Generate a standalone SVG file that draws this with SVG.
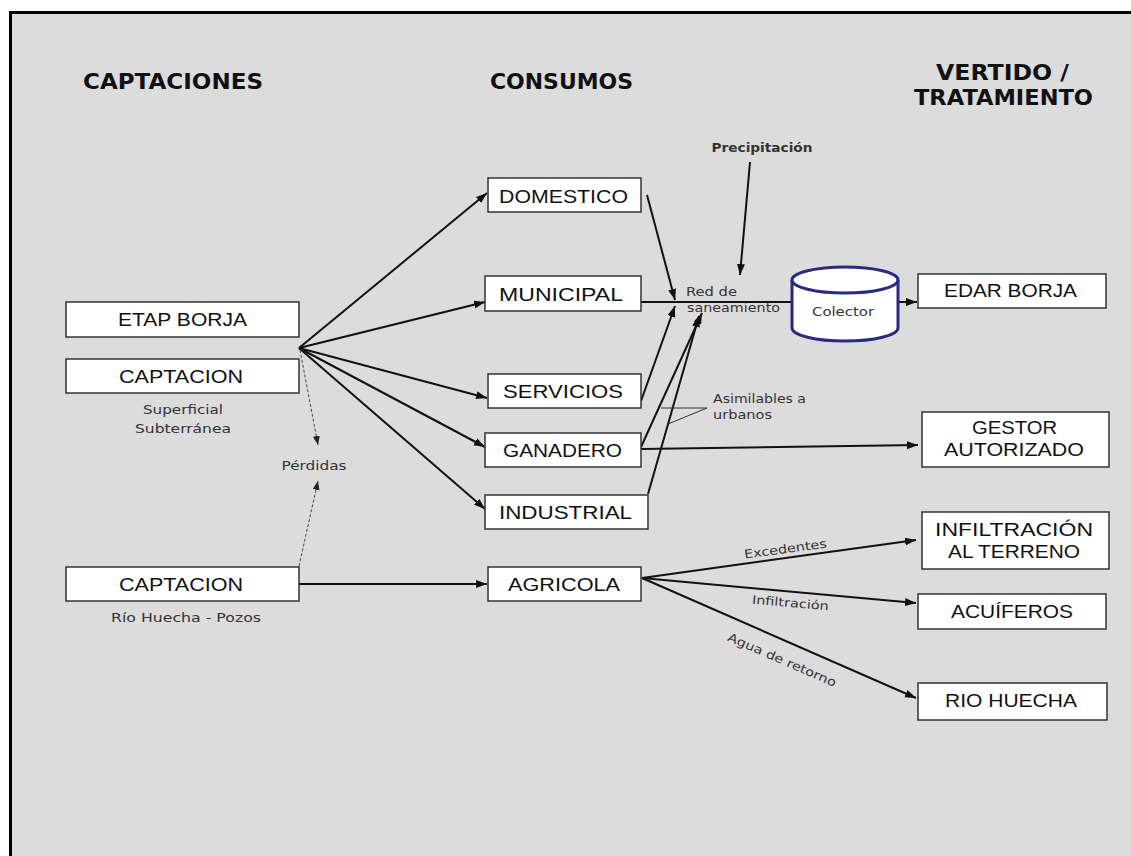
<svg xmlns="http://www.w3.org/2000/svg" width="1131" height="856" viewBox="0 0 1131 856">
<defs>
<style>
.box{fill:#fff;stroke:#333;stroke-width:1.5}
.bt{font-family:"Liberation Sans",Arial,sans-serif;font-size:19px;fill:#111;text-anchor:middle}
.hd{font-family:"DejaVu Sans",Verdana,sans-serif;font-size:21px;font-weight:bold;fill:#111}
.sm{font-family:"DejaVu Sans",Verdana,sans-serif;font-size:12px;fill:#333}
.ln{stroke:#111;stroke-width:2;fill:none}
.th{stroke:#333;stroke-width:1;fill:none}
.ds{stroke:#444;stroke-width:1;stroke-dasharray:3,2;fill:none}
</style>
<marker id="ah" markerUnits="userSpaceOnUse" markerWidth="12" markerHeight="10" refX="11" refY="4" orient="auto">
<path d="M0,0 L11,4 L0,8 Z" fill="#111"/>
</marker>
<marker id="ahs" markerUnits="userSpaceOnUse" markerWidth="10" markerHeight="8" refX="9" refY="3.5" orient="auto">
<path d="M0,0 L9,3.5 L0,7 Z" fill="#222"/>
</marker>
</defs>
<rect x="0" y="0" width="1131" height="856" fill="#fff"/>
<rect x="10.5" y="12.5" width="1130" height="860" fill="#dcdcdc" stroke="#000" stroke-width="3"/>

<g id="headers">
<text class="hd" x="83" y="89" textLength="180" lengthAdjust="spacingAndGlyphs">CAPTACIONES</text>
<text class="hd" x="490" y="89" textLength="143" lengthAdjust="spacingAndGlyphs">CONSUMOS</text>
<text class="hd" x="936" y="80" textLength="133" lengthAdjust="spacingAndGlyphs">VERTIDO /</text>
<text class="hd" x="914" y="105" textLength="179" lengthAdjust="spacingAndGlyphs">TRATAMIENTO</text>
</g>

<g id="connectors">
<line class="ln" x1="299" y1="348" x2="487" y2="193" marker-end="url(#ah)"/>
<line class="ln" x1="299" y1="348" x2="485" y2="302" marker-end="url(#ah)"/>
<line class="ln" x1="299" y1="348" x2="487" y2="398" marker-end="url(#ah)"/>
<line class="ln" x1="299" y1="348" x2="485" y2="447" marker-end="url(#ah)"/>
<line class="ln" x1="299" y1="348" x2="485" y2="509" marker-end="url(#ah)"/>
<line class="ln" x1="299" y1="584" x2="487" y2="584" marker-end="url(#ah)"/>
<line class="ds" x1="300" y1="350" x2="318" y2="445" marker-end="url(#ahs)"/>
<line class="ds" x1="299" y1="566" x2="318" y2="481" marker-end="url(#ahs)"/>
<line class="ln" x1="647" y1="195" x2="675" y2="300" marker-end="url(#ah)"/>
<line class="ln" x1="641" y1="302" x2="792" y2="302"/>
<line class="ln" x1="641" y1="401" x2="675" y2="306" marker-end="url(#ah)"/>
<line class="ln" x1="641" y1="447" x2="702" y2="313" marker-end="url(#ah)"/>
<line class="ln" x1="648" y1="494" x2="699" y2="316" marker-end="url(#ah)"/>
<line class="ln" x1="750" y1="162" x2="740" y2="275" marker-end="url(#ah)"/>
<line class="ln" x1="898" y1="302" x2="917" y2="302" marker-end="url(#ah)"/>
<line class="ln" x1="641" y1="449" x2="918" y2="445" marker-end="url(#ah)"/>
<line class="ln" x1="642" y1="578" x2="916" y2="540" marker-end="url(#ah)"/>
<line class="ln" x1="642" y1="578" x2="916" y2="603" marker-end="url(#ah)"/>
<line class="ln" x1="642" y1="578" x2="916" y2="698" marker-end="url(#ah)"/>
<line class="th" x1="707" y1="408" x2="661" y2="408"/>
<line class="th" x1="707" y1="408" x2="668" y2="424"/>
</g>

<g id="labels">
<text class="sm" x="762" y="152" text-anchor="middle" font-weight="bold" fill="#111" textLength="101" lengthAdjust="spacingAndGlyphs">Precipitación</text>
<text class="sm" x="686" y="296" textLength="51" lengthAdjust="spacingAndGlyphs">Red de</text>
<text class="sm" x="687" y="312" textLength="93" lengthAdjust="spacingAndGlyphs">saneamiento</text>
<text class="sm" x="713" y="403" textLength="93" lengthAdjust="spacingAndGlyphs">Asimilables a</text>
<text class="sm" x="713" y="419" textLength="59" lengthAdjust="spacingAndGlyphs">urbanos</text>
<text class="sm" x="183" y="414" text-anchor="middle" textLength="80" lengthAdjust="spacingAndGlyphs">Superficial</text>
<text class="sm" x="183" y="433" text-anchor="middle" textLength="96" lengthAdjust="spacingAndGlyphs">Subterránea</text>
<text class="sm" x="314" y="470" text-anchor="middle" textLength="65" lengthAdjust="spacingAndGlyphs">Pérdidas</text>
<text class="sm" x="186" y="622" text-anchor="middle" textLength="150" lengthAdjust="spacingAndGlyphs">Río Huecha - Pozos</text>
<text class="sm" x="786" y="553" text-anchor="middle" transform="rotate(-7.7 786 553)" textLength="83" lengthAdjust="spacingAndGlyphs">Excedentes</text>
<text class="sm" x="790" y="607" text-anchor="middle" transform="rotate(5 790 607)" textLength="77" lengthAdjust="spacingAndGlyphs">Infiltración</text>
<text class="sm" x="782" y="664" text-anchor="middle" transform="rotate(23.5 782 660)" textLength="117" lengthAdjust="spacingAndGlyphs">Agua de retorno</text>
</g>

<g id="etap-borja"><rect class="box" x="66" y="302" width="233" height="35"/><text class="bt" x="182.5" y="326" textLength="129" lengthAdjust="spacingAndGlyphs">ETAP BORJA</text></g>
<g id="captacion-1"><rect class="box" x="66" y="359" width="233" height="34"/><text class="bt" x="181" y="383" textLength="124" lengthAdjust="spacingAndGlyphs">CAPTACION</text></g>
<g id="captacion-2"><rect class="box" x="66" y="567" width="233" height="34"/><text class="bt" x="181" y="591" textLength="124" lengthAdjust="spacingAndGlyphs">CAPTACION</text></g>

<g id="domestico"><rect class="box" x="488" y="178" width="153" height="34"/><text class="bt" x="563.5" y="203" textLength="129" lengthAdjust="spacingAndGlyphs">DOMESTICO</text></g>
<g id="municipal"><rect class="box" x="485" y="276" width="156" height="35"/><text class="bt" x="561" y="301" textLength="124" lengthAdjust="spacingAndGlyphs">MUNICIPAL</text></g>
<g id="servicios"><rect class="box" x="488" y="374" width="153" height="34"/><text class="bt" x="563" y="398" textLength="120" lengthAdjust="spacingAndGlyphs">SERVICIOS</text></g>
<g id="ganadero"><rect class="box" x="485" y="433" width="156" height="34"/><text class="bt" x="562.5" y="457" textLength="119" lengthAdjust="spacingAndGlyphs">GANADERO</text></g>
<g id="industrial"><rect class="box" x="485" y="495" width="163" height="34"/><text class="bt" x="565.5" y="519" textLength="133" lengthAdjust="spacingAndGlyphs">INDUSTRIAL</text></g>
<g id="agricola"><rect class="box" x="488" y="567" width="153" height="34"/><text class="bt" x="564" y="591" textLength="112" lengthAdjust="spacingAndGlyphs">AGRICOLA</text></g>

<g id="colector">
<path d="M792,280 L792,328 A53,13 0 0 0 898,328 L898,280" fill="#fff" stroke="#2a2a80" stroke-width="3"/>
<ellipse cx="845" cy="280" rx="53" ry="13" fill="#fff" stroke="#2a2a80" stroke-width="3"/>
<text class="sm" x="843" y="316" text-anchor="middle" fill="#222" textLength="62" lengthAdjust="spacingAndGlyphs">Colector</text>
</g>

<g id="edar-borja"><rect class="box" x="918" y="274" width="188" height="34"/><text class="bt" x="1010.5" y="297" textLength="133" lengthAdjust="spacingAndGlyphs">EDAR BORJA</text></g>
<g id="gestor"><rect class="box" x="922" y="412" width="187" height="55"/><text class="bt" x="1014.5" y="434" textLength="85" lengthAdjust="spacingAndGlyphs">GESTOR</text><text class="bt" x="1014" y="456" textLength="140" lengthAdjust="spacingAndGlyphs">AUTORIZADO</text></g>
<g id="infiltracion"><rect class="box" x="922" y="512" width="187" height="57"/><text class="bt" x="1014" y="536" textLength="158" lengthAdjust="spacingAndGlyphs">INFILTRACIÓN</text><text class="bt" x="1014" y="558" textLength="132" lengthAdjust="spacingAndGlyphs">AL TERRENO</text></g>
<g id="acuiferos"><rect class="box" x="918" y="594" width="188" height="35"/><text class="bt" x="1012" y="618" textLength="122" lengthAdjust="spacingAndGlyphs">ACUÍFEROS</text></g>
<g id="rio-huecha"><rect class="box" x="918" y="683" width="189" height="37"/><text class="bt" x="1011" y="707" textLength="132" lengthAdjust="spacingAndGlyphs">RIO HUECHA</text></g>
</svg>
